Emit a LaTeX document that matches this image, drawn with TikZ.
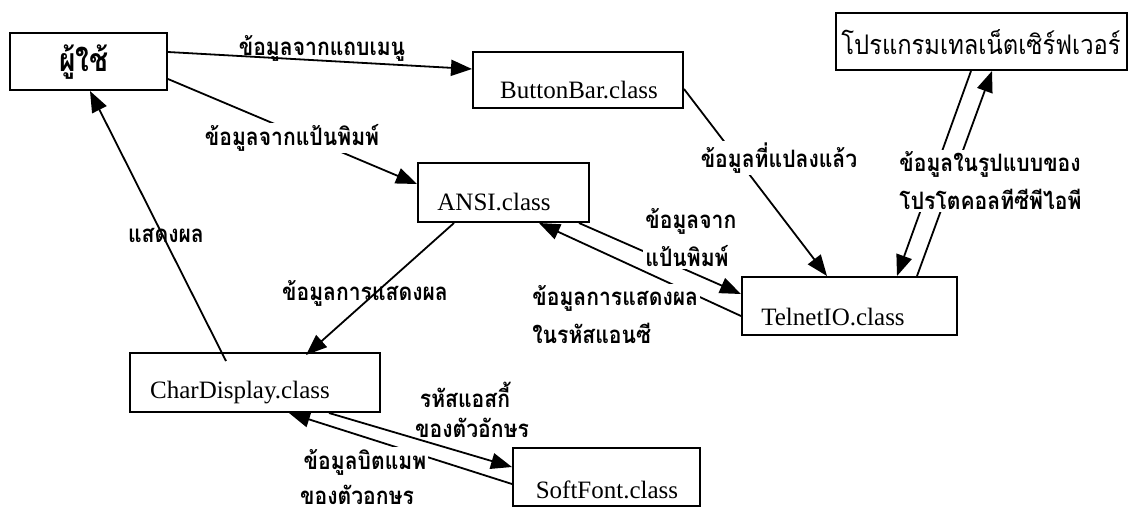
\documentclass[tikz,border=0pt]{standalone}
\usepackage{fontspec}
\setmainfont{Liberation Serif}
\newfontfamily\thai[Script=Thai,FakeStretch=0.88]{Loma}
\usetikzlibrary{calc,arrows.meta}
\begin{document}
\begin{tikzpicture}[x=0.5pt,y=-0.5pt,
  box/.style={draw, line width=1pt, inner sep=0pt},
  cls/.style={font=\fontsize{12.5}{14}\selectfont, inner sep=0pt},
  lab/.style={font=\thai\bfseries\fontsize{12}{14}\selectfont, inner sep=1pt},
  twol/.style={lab, align=left, anchor=west},
  wh/.style={fill=white},
  arr/.style={line width=0.9pt, -{Triangle[length=10.5pt,width=8pt]}}]
\useasboundingbox (0,0) rectangle (1130,515);
% boxes
\node[box, minimum width=78.5pt, minimum height=28.5pt] (user) at (88.5,61.5) {};
\node[box, minimum width=105pt, minimum height=28pt] (bb) at (578,80) {};
\node[box, minimum width=145.5pt, minimum height=28.5pt] (srv) at (981.5,41.5) {};
\node[box, minimum width=85.5pt, minimum height=29.5pt] (ansi) at (503.5,192.5) {};
\node[box, minimum width=107.5pt, minimum height=29pt] (tel) at (849.5,306) {};
\node[box, minimum width=125pt, minimum height=29.5pt] (cd) at (255,382.5) {};
\node[box, minimum width=93.5pt, minimum height=29pt] (sf) at (606.5,477) {};
% box texts
\node[font=\thai\bfseries\fontsize{16}{18}\selectfont, inner sep=0pt] (userT) at (84,62) {ผู้ใช้};
\node[cls] (bbT) at (579,90) {ButtonBar.class};
\node[font=\thai\fontsize{13.5}{16}\selectfont, inner sep=0pt] (srvT) at (981,42) {โปรแกรมเทลเน็ตเซิร์ฟเวอร์};
\node[cls] (ansiT) at (494,202) {ANSI.class};
\node[cls] (telT) at (833,317) {TelnetIO.class};
\node[cls] (cdT) at (240,393) {CharDisplay.class};
\node[cls] (sfT) at (607,490) {SoftFont.class};
% connectors
\draw[arr] ($(user.north east)+(0,20)$) -- ($(bb.north west)+(0,18)$);
\draw[arr] ($(user.north east)+(0,47)$) -- ($(ansi.north west)+(0,22)$);
\draw[arr] ($(bb.north east)+(0,38)$) -- ($(tel.north west)+(86,0)$);
\draw[arr] ($(srv.south west)+(136,0)$) -- ($(tel.north west)+(156,0)$);
\draw[arr] ($(tel.north west)+(176,0)$) -- ($(srv.south west)+(157,0)$);
\draw[arr] ($(ansi.south west)+(162,0)$) -- ($(tel.north west)+(0,18)$);
\draw[arr] ($(tel.north west)+(0,40)$) -- ($(ansi.south west)+(122,0)$);
\draw[arr] ($(ansi.south west)+(37,0)$) -- ($(cd.north west)+(177,3)$);
\draw[arr] ($(cd.north west)+(97,9)$) -- ($(user.south west)+(81,0)$);
\draw[arr] ($(cd.south west)+(200,0)$) -- ($(sf.north west)+(0,20)$);
\draw[arr] ($(sf.north west)+(0,37)$) -- ($(cd.south west)+(160,0)$);
% labels
\node[lab] (l1) at (322,48) {ข้อมูลจากแถบเมนู};
\node[lab, wh] (l2) at (292,138) {ข้อมูลจากแป้นพิมพ์};
\node[lab, wh] (l3) at (779,158) {ข้อมูลที่แปลงแล้ว};
\node[twol, wh] (l4) at (897,181) {ข้อมูลในรูปแบบของ\\[5pt]โปรโตคอลทีซีพีไอพี};
\node[twol, wh] (l5) at (643,237.5) {ข้อมูลจาก\\[5pt]แป้นพิมพ์};
\node[twol, wh] (l6) at (530,315) {ข้อมูลการแสดงผล\\[5pt]ในรหัสแอนซี};
\node[lab] (l7) at (365,293) {ข้อมูลการแสดงผล};
\node[lab] (l8) at (166,235) {แสดงผล};
\node[lab] (l9a) at (465,395) {รหัสแอสกี้};
\node[lab] (l9b) at (472,428) {ของตัวอักษร};
\node[lab, wh] (l10a) at (365,462) {ข้อมูลบิตแมพ};
\node[lab] (l10b) at (357,495) {ของตัวอกษร};
\end{tikzpicture}
\end{document}
